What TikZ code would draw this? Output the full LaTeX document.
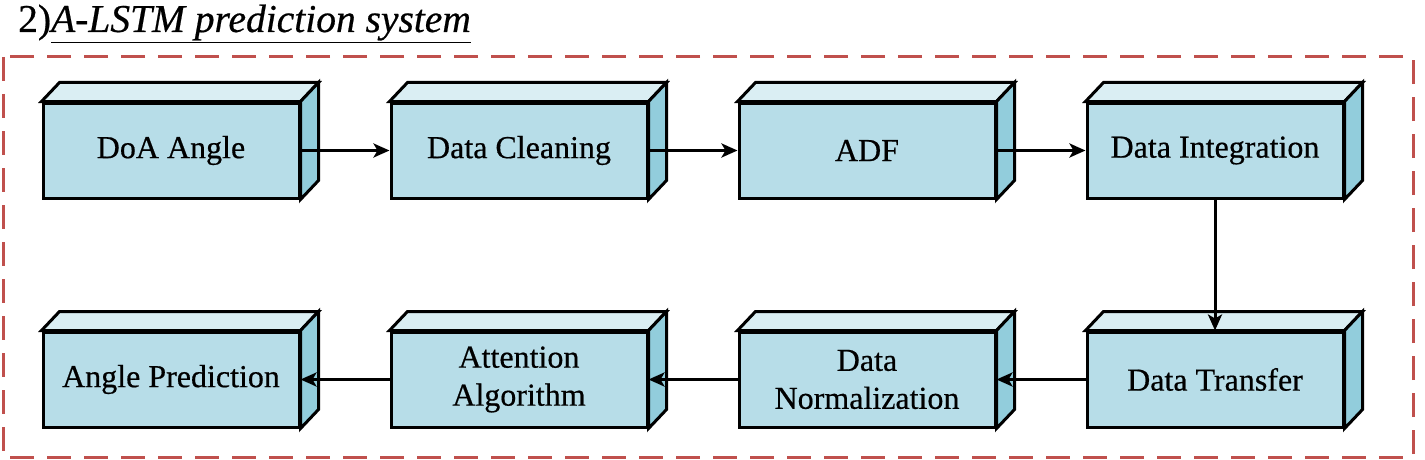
\documentclass[tikz,border=0pt]{standalone}
\usepackage{fontspec}
\setmainfont{Liberation Serif}
\newfontfamily\heavyserif[FakeBold=0.5]{Liberation Serif}
\usetikzlibrary{arrows.meta}
\definecolor{topc}{HTML}{DAEEF3}
\definecolor{frontc}{HTML}{B7DDE8}
\definecolor{sidec}{HTML}{92CDDC}
\definecolor{framec}{HTML}{C0504D}
\tikzset{
  frontface/.style={draw=black, fill=frontc, line width=3pt, minimum width=256pt,
    minimum height=95pt, inner sep=0pt, align=center,
    font=\heavyserif\fontsize{32}{38}\selectfont},
  face/.style={draw=black, line width=3pt},
  flow/.style={line width=3pt, -{Stealth[length=16pt,width=14pt,inset=4pt]}},
  frame/.style={draw=framec, line width=3pt, dash pattern=on 24pt off 13pt}
}
\newcommand\cubebox[3]{%
  \node[frontface] (#1) at (#2) {#3};
  \filldraw[face, fill=topc] (#1.north west) -- ++(18,-19) -- ([shift={(18,-19)}]#1.north east) -- (#1.north east) -- cycle;
  \filldraw[face, fill=sidec] (#1.north east) -- ++(18,-19) -- ([shift={(18,-19)}]#1.south east) -- (#1.south east) -- cycle;
}
\begin{document}
\begin{tikzpicture}[x=1pt,y=-1pt]
  \useasboundingbox (0,0) rectangle (1425,460);
  \node[anchor=base west, inner sep=0pt, font=\heavyserif\fontsize{39.5}{42}\selectfont] (title) at (18,32)
    {2)\underline{\textit{A-LSTM prediction system}}};
  \draw[frame] (3,57) rectangle (1413,457);
  \cubebox{doa}{171,150.5}{DoA Angle}
  \cubebox{clean}{519,150.5}{Data Cleaning}
  \cubebox{adf}{867,150.5}{ADF}
  \cubebox{integ}{1215,150.5}{Data Integration}
  \cubebox{transfer}{1215,379.5}{Data Transfer}
  \cubebox{norm}{867,379.5}{Data\\Normalization}
  \cubebox{attn}{519,379.5}{Attention\\Algorithm}
  \cubebox{pred}{171,379.5}{Angle Prediction}
  \draw[flow] (doa.east) -- (clean.west);
  \draw[flow] (clean.east) -- (adf.west);
  \draw[flow] (adf.east) -- (integ.west);
  \draw[flow] (integ.south) -- (transfer.north);
  \draw[flow] (transfer.west) -- (norm.east);
  \draw[flow] (norm.west) -- (attn.east);
  \draw[flow] (attn.west) -- (pred.east);
\end{tikzpicture}
\end{document}
